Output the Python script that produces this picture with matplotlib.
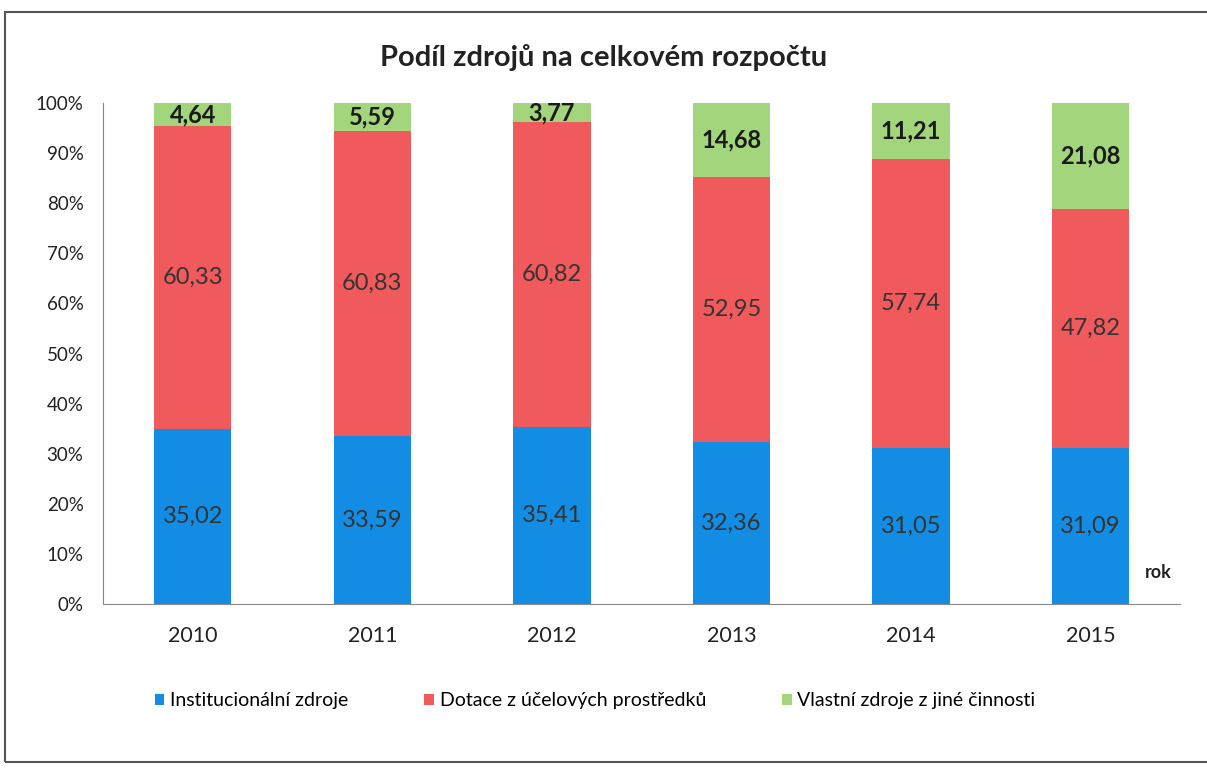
import matplotlib
matplotlib.use("Agg")
import matplotlib.pyplot as plt
from matplotlib.patches import Patch, Rectangle
import numpy as np

years = ["2010", "2011", "2012", "2013", "2014", "2015"]
institucionalni = [35.02, 33.59, 35.41, 32.36, 31.05, 31.09]
dotace = [60.33, 60.83, 60.82, 52.95, 57.74, 47.82]
vlastni = [4.64, 5.59, 3.77, 14.68, 11.21, 21.08]
series_names = ["Institucionální zdroje", "Dotace z účelových prostředků",
                "Vlastní zdroje z jiné činnosti"]
colors = ["#138de3", "#f05a5c", "#a3d57c"]

plt.rcParams['font.family'] = ['Lato', 'DejaVu Sans']

fig = plt.figure(figsize=(12.07, 7.71), dpi=100)
ax = fig.add_axes([0.0853, 0.2166, 0.8927, 0.6498])

x = np.arange(len(years))
w = 0.43
series = [institucionalni, dotace, vlastni]
bottom = np.zeros(len(years))
for i, (vals, col) in enumerate(zip(series, colors)):
    vals = np.array(vals)
    ax.bar(x, vals, w, bottom=bottom, color=col, edgecolor='none')
    for xi, b, v in zip(x, bottom, vals):
        lbl = f"{v:.2f}".replace('.', ',')
        ax.text(xi, b + v / 2, lbl, ha='center', va='center',
                fontsize=17, color='#333333' if i < 2 else '#1a1a1a',
                fontweight='bold' if i == 2 else 'normal')
    bottom += vals

ax.set_xlim(-0.5, len(years) - 0.5)
ax.set_ylim(0, 100)
ax.set_yticks(np.arange(0, 101, 10))
ax.set_yticklabels([f"{v}%" for v in range(0, 101, 10)], fontsize=13.5, color='#222222')
ax.set_xticks(x)
ax.set_xticklabels(years, fontsize=15.5, color='#222222')
ax.tick_params(axis='both', length=0)
ax.tick_params(axis='y', pad=14)
ax.tick_params(axis='x', pad=16)
for s in ['top', 'right']:
    ax.spines[s].set_visible(False)
ax.spines['left'].set_color('#888888')
ax.spines['bottom'].set_color('#888888')

fig.text(0.5, 0.926, "Podíl zdrojů na celkovém rozpočtu", ha='center', va='center',
         fontsize=21, fontweight='bold', color='#222222')
fig.text(0.9595, 0.257, "rok", ha='center', va='center', fontsize=13,
         fontweight='bold', color='#222222')

handles = [Patch(facecolor=c, edgecolor='none') for c in colors]
fig.legend(handles, series_names, loc='center', bbox_to_anchor=(0.493, 0.091),
           ncol=3, frameon=False, fontsize=14, handlelength=0.5, handleheight=0.5,
           handletextpad=0.3, columnspacing=3.9)

fig.patches.append(Rectangle((0.004, 0.012), 1.2, 0.972, transform=fig.transFigure,
                             fill=False, edgecolor='#555555', linewidth=1.5))

fig.savefig("out.png", dpi=100)
